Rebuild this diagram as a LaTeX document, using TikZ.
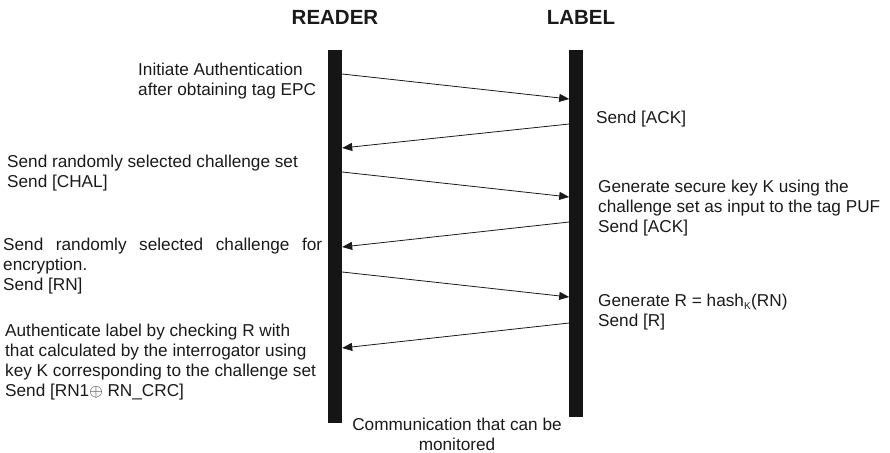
\documentclass[tikz,border=0pt]{standalone}
\usepackage{fontspec}
\setmainfont{Liberation Sans}
\usetikzlibrary{arrows.meta, positioning}
\definecolor{colBar}{RGB}{21,21,21}
\definecolor{colText}{RGB}{26,26,26}

\begin{document}
\begin{tikzpicture}[
  x=1pt, y=-1pt,
  bar/.style={draw=none, fill=colBar, inner sep=0pt, minimum width=14pt, minimum height=#1, anchor=north},
  msg/.style={-{Triangle[length=10pt, width=8pt]}, line width=0.8pt, draw=colText},
  title/.style={font=\fontsize{20.5}{24}\selectfont\bfseries, text=colText, anchor=base, inner sep=0pt},
  note/.style={font=\fontsize{17.2}{20}\selectfont, text=colText, align=left, anchor=base west, inner sep=0pt},
]
\useasboundingbox (0,0) rectangle (890,452);

% ─── LIFELINES ────────────────────────────────────────────────────────────────
\node[bar=373pt] (reader) at (335,50) {};
\node[bar=367pt, right=227pt of reader.north east, anchor=north west] (label) {};

\node[title] (readerTitle) at (335,24.5) {READER};
\node[title] (labelTitle)  at (581,24.5) {LABEL};

% ─── MESSAGES ─────────────────────────────────────────────────────────────────
\foreach \ya/\yb in {24/49, 122/147, 222/247}
  \draw[msg] ([yshift=-\ya pt]reader.north east) -- ([yshift=-\yb pt]label.north west);
\foreach \ya/\yb in {74/98, 172/197, 273/298}
  \draw[msg] ([yshift=-\ya pt]label.north west) -- ([yshift=-\yb pt]reader.north east);

% ─── READER SIDE (base = last line) ───────────────────────────────────────────
\node[note] (initTxt) at (138,95)   {Initiate Authentication\\after obtaining tag EPC};
\node[note] (chalTxt) at (7,187)    {Send randomly selected challenge set\\Send [CHAL]};
\node[note] (rnTxt)   at (3,290.5)  {\makebox[319pt][s]{Send randomly selected challenge for}\\encryption.\\Send [RN]};
\node[note] (authTxt) at (5,396.5)  {Authenticate label by checking R with\\that calculated by the interrogator using\\key K corresponding to the challenge set\\Send [RN1$\oplus$ RN\_CRC]};

% ─── LABEL SIDE ───────────────────────────────────────────────────────────────
\node[note] (ackTxt)  at (596,123.5) {Send [ACK]};
\node[note] (pufTxt)  at (598,232.5) {Generate secure key K using the\\challenge set as input to the tag PUF\\Send [ACK]};
\node[note] (hashTxt) at (598,326.5) {Generate R = hash\textsubscript{\fontsize{10}{10}\selectfont K}(RN)\\Send [R]};

% ─── CHANNEL ──────────────────────────────────────────────────────────────────
\node[note, align=center, anchor=base] (commTxt) at (457,450) {Communication that can be\\monitored};

\end{tikzpicture}
\end{document}
